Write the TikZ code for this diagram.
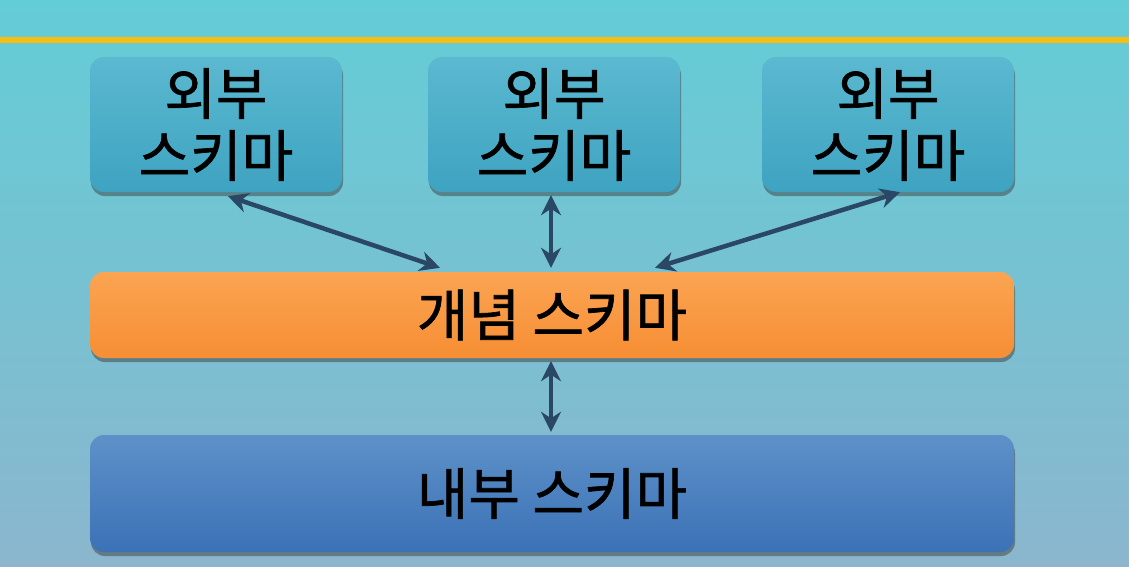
\documentclass[tikz,border=0pt]{standalone}
\usepackage{fontspec}
\newfontfamily\kr[FakeBold=1.2]{Noto Sans CJK KR}
\usetikzlibrary{shadows,arrows.meta}
\definecolor{bgtop}{HTML}{63CDD6}
\definecolor{bgbot}{HTML}{8BB6CE}
\definecolor{exttop}{HTML}{5BB9D0}
\definecolor{extbot}{HTML}{3EA3C1}
\definecolor{contop}{HTML}{FBA452}
\definecolor{conbot}{HTML}{F68E34}
\definecolor{inttop}{HTML}{5E91C9}
\definecolor{intbot}{HTML}{3B72B6}
\definecolor{arrc}{HTML}{2A4766}
\definecolor{yline}{HTML}{F7BE12}
\tikzset{
  box/.style={rounded corners=14pt, inner sep=0pt, align=center,
    drop shadow={shadow xshift=1pt, shadow yshift=-4pt, opacity=0.5, fill=black!75}},
  extbox/.style={box, minimum width=252pt, minimum height=135pt,
    top color=exttop, bottom color=extbot, font=\kr\fontsize{56}{64}\selectfont},
  conbox/.style={box, minimum width=924pt, minimum height=86pt,
    top color=contop, bottom color=conbot, font=\kr\fontsize{56}{60}\selectfont},
  intbox/.style={box, minimum width=924pt, minimum height=117pt,
    top color=inttop, bottom color=intbot, font=\kr\fontsize{56}{60}\selectfont},
  arr/.style={draw=arrc, line width=4.5pt, {Stealth[length=20pt,width=20pt]}-{Stealth[length=20pt,width=20pt]}}
}
\begin{document}
\begin{tikzpicture}[x=1pt,y=-1pt]
\shade[top color=bgtop, bottom color=bgbot] (0,0) rectangle (1129,567);
\useasboundingbox (0,0) rectangle (1129,567);
\draw[yline, line width=6pt] (0,40) -- (1129,40);
\node[extbox] (ext1) at (216,124.5) {외부\\[-2pt]스키마};
\node[extbox] (ext2) at (554,124.5) {외부\\[-2pt]스키마};
\node[extbox] (ext3) at (888,124.5) {외부\\[-2pt]스키마};
\node[conbox] (conc) at (552,315) {개념 스키마};
\node[intbox] (intl) at (552,493.5) {내부 스키마};
\draw[arr] ([xshift=12pt,yshift=-4pt]ext1.south) -- ([xshift=-112pt,yshift=4pt]conc.north);
\draw[arr] ([xshift=-3pt,yshift=-3pt]ext2.south) -- ([xshift=-1pt,yshift=4pt]conc.north);
\draw[arr] ([xshift=12pt,yshift=0pt]ext3.south) -- ([xshift=103pt,yshift=4pt]conc.north);
\draw[arr] ([xshift=-1pt,yshift=-3pt]conc.south) -- ([xshift=-1pt,yshift=3pt]intl.north);
\end{tikzpicture}
\end{document}
